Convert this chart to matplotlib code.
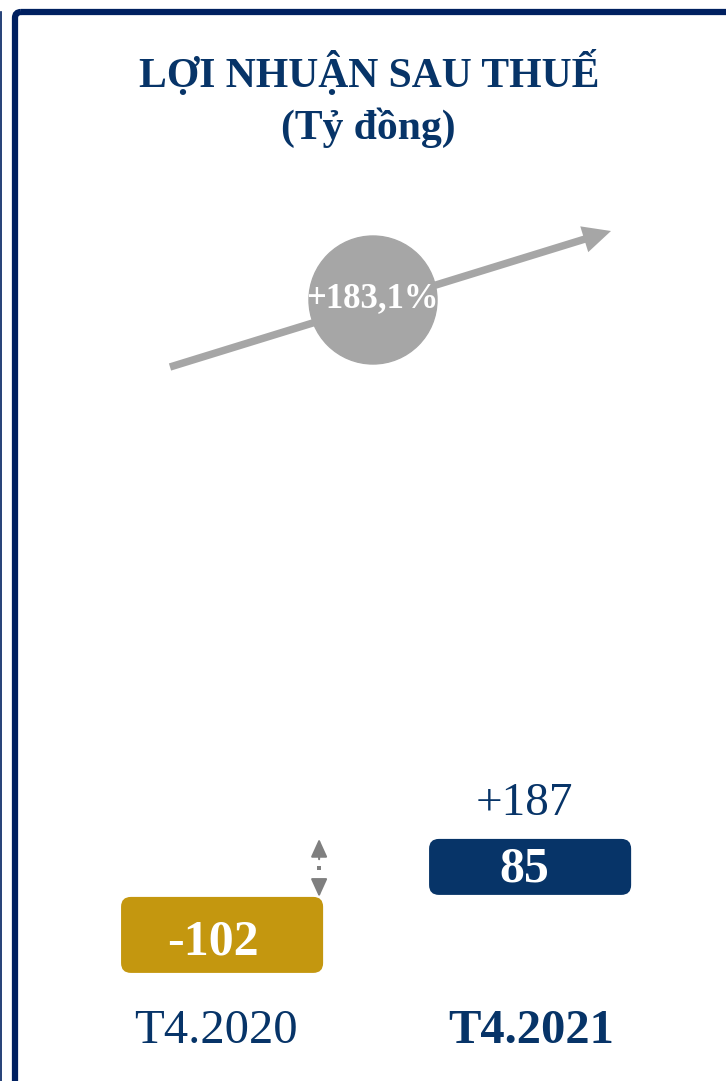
import matplotlib
matplotlib.use('Agg')
import matplotlib.pyplot as plt
from matplotlib.patches import FancyBboxPatch, Circle

# data
periods = ['T4.2020', 'T4.2021']
profit = [-102, 85]
change_abs = '+187'
change_pct = '+183,1%'
title = ['LỢI NHUẬN SAU THUẾ', '(Tỷ đồng)']

navy = '#073468'
frame_col = '#002060'
gold = '#c4970f'
grey = '#a6a6a6'
font = 'Liberation Serif'

fig = plt.figure(figsize=(7.26, 10.81), dpi=100)

# decoration layer in pixel coords
deco = fig.add_axes([0, 0, 1, 1])
deco.set_xlim(0, 726)
deco.set_ylim(1081, 0)
deco.axis('off')

frame = FancyBboxPatch((15, 12), 800, 1200, boxstyle='round,pad=0,rounding_size=6',
                       fc='none', ec=frame_col, lw=4.5)
deco.add_patch(frame)
deco.plot([0.8, 0.8], [12, 1081], color=frame_col, lw=1.2)

deco.text(369, 73, title[0], ha='center', va='center', color=navy, fontsize=30,
          fontweight='bold', family=font)
deco.text(368, 128, title[1], ha='center', va='center', color=navy, fontsize=30,
          fontweight='bold', family=font)

deco.arrow(170, 367, 611 - 170, 231 - 367, width=7.5, head_width=27, head_length=28,
           length_includes_head=True, color=grey, lw=0)
deco.add_patch(Circle((373, 300), 64, color=grey, zorder=5))
deco.text(372, 299, change_pct, ha='center', va='center', color='white', fontsize=25,
          fontweight='bold', family=font, zorder=6)

# value layer
ax = fig.add_axes([0, 81 / 1081, 1, 220 / 1081])
ax.set_xlim(-0.721, 1.636)
ax.set_ylim(-281, 324)
ax.axis('off')

box_w = 0.656
box_h = [209, 154]
colors = [gold, navy]
aspect = (605 / 220) / (2.357 / 726)
tops = []
for i, v in enumerate(profit):
    h = box_h[i]
    ax.add_patch(FancyBboxPatch((i - box_w / 2, v - h / 2), box_w, h,
                                boxstyle='round,pad=0,rounding_size=0.032',
                                mutation_aspect=aspect, fc=colors[i], ec='none'))
    ax.text(i - (0.03 if i == 0 else 0.02), v - (22 if i == 0 else 6), f'{v}',
            ha='center', va='center', color='white', fontsize=36, fontweight='bold',
            family=font)
    tops.append(v + h / 2)

ax.text(1 - 0.02, tops[1] + 98, change_abs, ha='center', va='center', color=navy,
        fontsize=34, family=font)

# double arrow between box tops
xa = 0.315
span = tops[1] - tops[0]
mid = (tops[0] + tops[1]) / 2
head = dict(color='#7f7f7f', lw=1.5, mutation_scale=10, shrinkA=0, shrinkB=0,
            arrowstyle='-|>,head_length=1.1,head_width=0.5')
ax.annotate('', xy=(xa, tops[1]), xytext=(xa, mid + 0.15 * span), arrowprops=head)
ax.annotate('', xy=(xa, tops[0]), xytext=(xa, mid - 0.24 * span), arrowprops=head)
ax.plot([xa], [mid], marker='s', ms=2.5, color='#7f7f7f', mew=0)

for i, p in enumerate(periods):
    ax.text(i + (-0.02 if i == 0 else 0.003), -305, p, ha='center', va='top',
            color=navy, fontsize=35, family=font,
            fontweight='normal' if i == 0 else 'bold')

fig.savefig('out.png', dpi=100)
